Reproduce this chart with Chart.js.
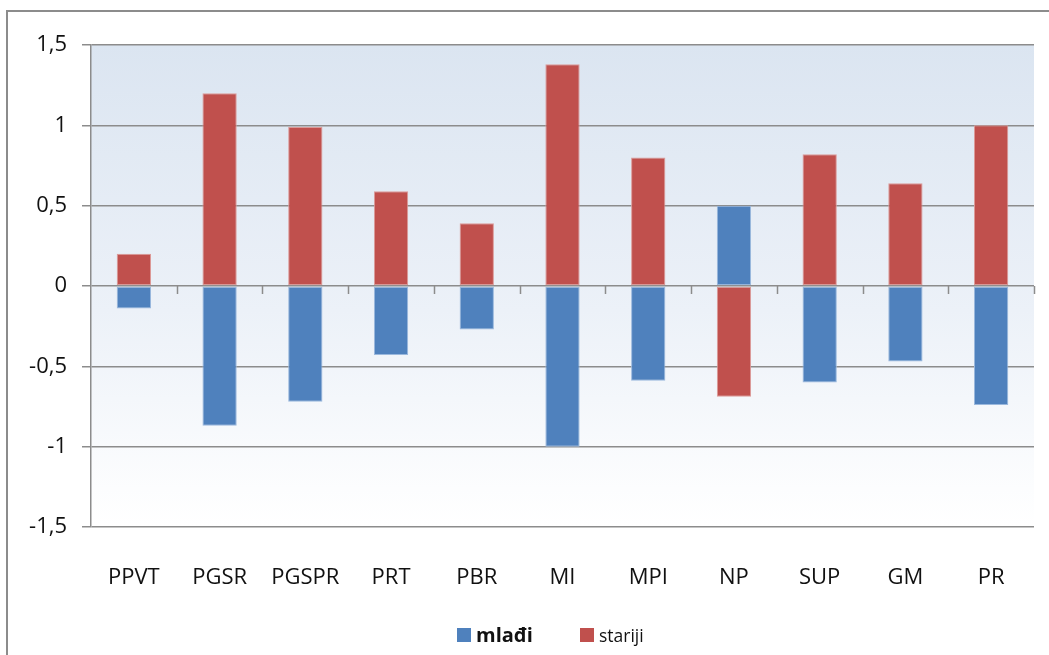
<!DOCTYPE html>
<html>
<head>
<meta charset="utf-8">
<script src="https://cdn.jsdelivr.net/npm/chart.js@4/dist/chart.umd.min.js"></script>
<style>
  html, body { margin: 0; padding: 0; background: #fff; overflow: hidden; }
  #frame { position: absolute; left: 6px; top: 10px; width: 1100px; height: 700px;
           border-left: 2px solid #8c8c8c; border-top: 2px solid #8c8c8c; }
  #wrap { position: absolute; left: 0; top: 0; width: 1049px; height: 655px; }
</style>
</head>
<body>
<div id="frame"></div>
<div id="wrap"><canvas id="chart"></canvas></div>
<script>
const categories = ['PPVT', 'PGSR', 'PGSPR', 'PRT', 'PBR', 'MI', 'MPI', 'NP', 'SUP', 'GM', 'PR'];
const mladi = [-0.14, -0.87, -0.72, -0.43, -0.27, -1.0, -0.59, 0.5, -0.6, -0.47, -0.74];
const stariji = [0.2, 1.2, 0.99, 0.59, 0.39, 1.38, 0.8, -0.69, 0.82, 0.64, 1.0];
const yMin = -1.5, yMax = 1.5, yStep = 0.5;

const FONT = '"Open Sans", sans-serif';

// plot area gradient (light blue -> white)
const bgPlugin = {
    id: 'bg',
    beforeDraw(chart) {
        const { ctx, chartArea: a } = chart;
        const g = ctx.createLinearGradient(0, a.top, 0, a.bottom);
        g.addColorStop(0, '#dbe5f1');
        g.addColorStop(0.55, '#ecf1f8');
        g.addColorStop(0.92, '#fcfdfe');
        g.addColorStop(1, '#ffffff');
        ctx.save();
        ctx.fillStyle = g;
        ctx.fillRect(a.left, a.top, a.right - a.left, a.bottom - a.top);
        ctx.restore();
    }
};

// category tick marks below the zero line + legend
const extrasPlugin = {
    id: 'extras',
    afterDraw(chart) {
        const { ctx, chartArea: a, scales } = chart;
        const y0 = scales.y.getPixelForValue(0);
        const n = categories.length;
        const step = (a.right - a.left) / n;
        ctx.save();
        ctx.strokeStyle = '#8c8c8c';
        ctx.lineWidth = 1.5;
        ctx.beginPath();
        for (let i = 1; i <= n; i++) {
            const x = Math.round(a.left + i * step) + 0.5;
            ctx.moveTo(x, y0);
            ctx.lineTo(x, y0 + 8);
        }
        ctx.stroke();

        // legend
        const items = [
            { ds: chart.data.datasets[0], x: 457, font: 'bold 20px ' + FONT },
            { ds: chart.data.datasets[1], x: 580, font: '17.5px ' + FONT }
        ];
        ctx.textBaseline = 'alphabetic';
        ctx.textAlign = 'left';
        items.forEach(it => {
            ctx.fillStyle = it.ds.backgroundColor;
            ctx.fillRect(it.x, 628, 14, 14);
            ctx.fillStyle = '#111';
            ctx.font = it.font;
            ctx.fillText(it.ds.label, it.x + 19, 642);
        });
        ctx.restore();
    }
};

const fmt = v => String(v).replace('.', ',');

new Chart(document.getElementById('chart'), {
    type: 'bar',
    data: {
        labels: categories,
        datasets: [
            { label: 'mlađi', data: mladi, backgroundColor: '#4f81bd', borderColor: '#9ab8dd', borderWidth: 1 },
            { label: 'stariji', data: stariji, backgroundColor: '#c0504d', borderColor: '#dc9a98', borderWidth: 1 }
        ]
    },
    options: {
        responsive: true,
        maintainAspectRatio: false,
        animation: false,
        layout: { padding: { top: 45, right: 15, bottom: 0, left: 0 } },
        datasets: { bar: { categoryPercentage: 1, barPercentage: 0.4, borderSkipped: false } },
        plugins: { legend: { display: false }, tooltip: { enabled: false } },
        scales: {
            x: {
                stacked: true,
                grid: { display: false, drawTicks: false },
                border: { display: false },
                ticks: { color: '#111', font: { family: FONT, size: 22 }, padding: 38 },
                afterFit(scale) { scale.height = 655 - 527; }
            },
            y: {
                stacked: true,
                min: yMin,
                max: yMax,
                grid: { color: '#8c8c8c', lineWidth: 1.5, tickLength: 9 },
                border: { color: '#8c8c8c', width: 1.5 },
                ticks: { stepSize: yStep, color: '#111', font: { family: FONT, size: 22 }, padding: 15,
                         callback: v => fmt(v) },
                afterFit(scale) { scale.width = 91; }
            }
        }
    },
    plugins: [bgPlugin, extrasPlugin]
});
</script>
</body>
</html>
